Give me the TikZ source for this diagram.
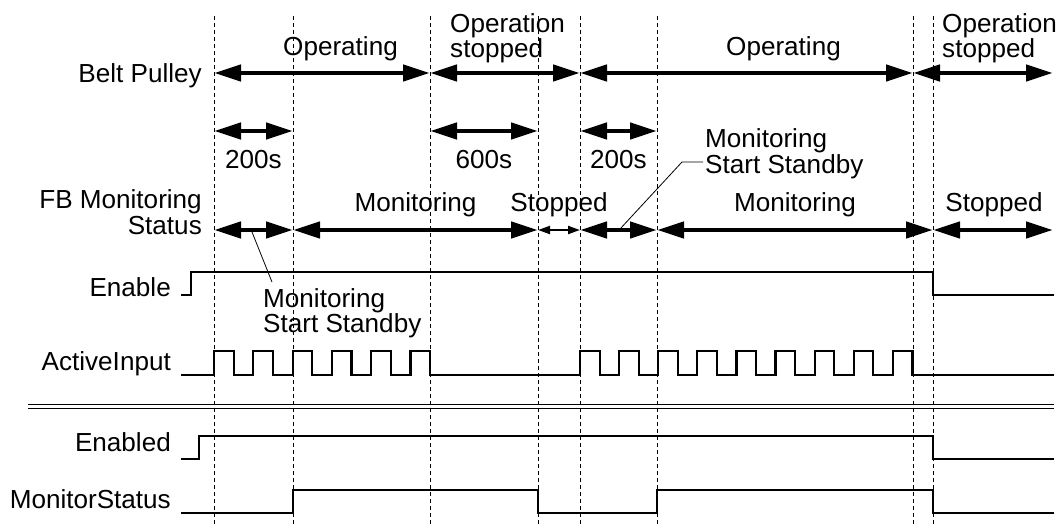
\documentclass[tikz,border=0pt]{standalone}
\usepackage{fontspec}
\setmainfont{Liberation Sans}
\usetikzlibrary{arrows.meta,positioning}

\begin{document}
\begin{tikzpicture}[
  x=1pt, y=-1pt,
  every node/.style={inner sep=0pt, font=\fontsize{26.1}{25.5}\selectfont},
  lbl/.style={anchor=base east},
  txt/.style={anchor=base west},
  mid/.style={anchor=base},
  span/.style={{Triangle[length=27pt,width=16pt]}-{Triangle[length=27pt,width=16pt]},
    line width=4.5pt},
  shortspan/.style={{Triangle[length=12pt,width=8pt]}-{Triangle[length=12pt,width=8pt]},
    line width=2pt},
  guide/.style={dash pattern=on 4pt off 3pt, line width=1pt},
  sig/.style={line width=2.2pt, line join=miter},
  lead/.style={line width=0.8pt}
]
  \useasboundingbox (0,0) rectangle (1059,528);

  % Time marks and rows
  \foreach \n/\x in {t1/214, t2/293, t3/430, t4/538, t5/580, t6/657, t7/913, t8/933, tE/1053}
    \coordinate (\n) at (\x,0);
  \coordinate (bp)  at (0,73);
  \coordinate (dur) at (0,131);
  \coordinate (fb)  at (0,230);

  % Dashed guides
  \foreach \x in {214, 293, 430, 538, 580, 657, 913, 933}
    \draw[guide] (\x,16) -- (\x,526);

  % Belt Pulley
  \node[lbl] (pulley) at (202,82) {Belt Pulley};
  \node[txt] (op1)    at (283,55) {Operating};
  \node[txt] (stop1a) at (450,32) {Operation};
  \node[txt] (stop1b) at (450,57) {stopped};
  \node[txt] (op2)    at (726,55) {Operating};
  \node[txt] (stop2a) at (942,32) {Operation};
  \node[txt] (stop2b) at (942,57) {stopped};
  \foreach \a/\b in {t1/t3, t3/t5, t5/t7, t7/tE}
    \draw[span] (\a |- bp) -- (\b |- bp);

  % Durations
  \foreach \a/\b in {t1/t2, t3/t4, t5/t6}
    \draw[span] (\a |- dur) -- (\b |- dur);
  \node[mid] (d1) at (253.5,168) {200s};
  \node[mid] (d2) at (484,168)   {600s};
  \node[mid] (d3) at (618.5,168) {200s};

  % FB Monitoring Status
  \node[lbl] (fbsa) at (202,208) {FB Monitoring};
  \node[lbl] (fbsb) at (202,234) {Status};
  \node[mid] (mon1) at (415.5,211) {Monitoring};
  \node[mid] (stp1) at (559,211)   {Stopped};
  \node[mid] (mon2) at (795,211)   {Monitoring};
  \node[mid] (stp2) at (994,211)   {Stopped};
  \foreach \a/\b in {t1/t2, t2/t4, t5/t6, t6/t8, t8/tE}
    \draw[span] (\a |- fb) -- (\b |- fb);
  \draw[shortspan] (t4 |- fb) -- (t5 |- fb);

  % Standby notes
  \node[txt] (msb1a) at (263,307) {Monitoring};
  \node[txt] (msb1b) at (263,332) {Start Standby};
  \coordinate (ms1) at (252,232);
  \draw[lead] (ms1) -- (272,282);
  \node[txt] (msb2a) at (705,147) {Monitoring};
  \node[txt] (msb2b) at (705,173) {Start Standby};
  \coordinate (ms2) at (620,229);
  \draw[lead] (ms2) -- (682,162) -- (703,162);

  % Signals
  \node[lbl] (enable)  at (171,296) {Enable};
  \node[lbl] (active)  at (171,370) {ActiveInput};
  \node[lbl] (enabled) at (171,451) {Enabled};
  \node[lbl] (monstat) at (171,508) {MonitorStatus};

  \draw[sig] (181,295) -| (191,272) -| (933,295) -- (1054,295);
  \draw[sig] (181,375)
    \foreach \k in {0,...,5} { -- ({214+39.3*\k},375) |- ({233.6+39.3*\k},351) -- ({233.6+39.3*\k},375) }
    \foreach \k in {0,...,8} { -- ({580+39.1*\k},375) |- ({599.6+39.1*\k},351) -- ({599.6+39.1*\k},375) }
    -- (1054,375);

  \draw[line width=0.9pt] (28,404) -- (1054,404);
  \draw[line width=0.9pt] (28,408) -- (1054,408);

  \draw[sig] (181,459) -| (199,436) -| (933,459) -- (1054,459);
  \draw[sig] (181,513) -| (293,490) -| (538,513) -| (657,490) -| (933,513) -- (1054,513);
\end{tikzpicture}
\end{document}
